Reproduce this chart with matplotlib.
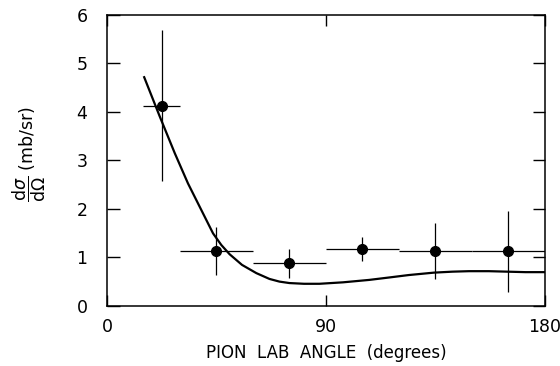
import matplotlib
matplotlib.use("Agg")
import matplotlib.pyplot as plt

# data points
angle = [22.5, 45, 75, 105, 135, 165]
xs = [4.12, 1.13, 0.87, 1.17, 1.12, 1.12]
angle_err = [7.5, 15, 15, 15, 15, 15]
xs_err = [1.56, 0.5, 0.3, 0.25, 0.58, 0.83]

# theory curve
curve_angle = [15.3, 21.7, 27.9, 33.3, 38.8, 43.6, 47.0, 50.4, 55.5, 61.4, 66.8, 70.9,
               75, 81, 87.3, 97, 107.8, 116, 124, 134.4, 142, 148.8, 157, 164.5, 172, 180]
curve_xs = [4.71, 3.90, 3.14, 2.52, 1.97, 1.49, 1.25, 1.06, 0.84, 0.67, 0.55, 0.495,
            0.465, 0.45, 0.45, 0.48, 0.53, 0.58, 0.63, 0.68, 0.70, 0.71, 0.71, 0.70, 0.69, 0.69]

xticks = [0, 90, 180]
yticks = [0, 1, 2, 3, 4, 5, 6]

plt.rcParams['font.family'] = ['DejaVu Sans']
plt.rcParams['mathtext.fontset'] = 'dejavusans'

fig = plt.figure(figsize=(5.6, 3.66), dpi=100)
ax = fig.add_axes([0.191, 0.165, 0.782, 0.795])

ax.plot(curve_angle, curve_xs, color='black', lw=1.6, zorder=2)
ax.errorbar(angle, xs, xerr=angle_err, yerr=xs_err, fmt='o', color='black',
            ms=7, elinewidth=0.9, capsize=0, zorder=3)

ax.set_xlim(0, 180)
ax.set_ylim(0, 6)
ax.set_xticks(xticks)
ax.set_yticks(yticks)
ax.tick_params(axis='both', direction='in', labelsize=12.5, width=1.0)
ax.tick_params(axis='y', length=9, right=True, pad=14)
ax.tick_params(axis='x', length=8, top=True, pad=9)
for s in ax.spines.values():
    s.set_linewidth(1.1)

ax.set_xlabel('PION  LAB  ANGLE  (degrees)', fontsize=12, labelpad=6)
fig.text(0.052, 0.58, r'$\dfrac{\mathrm{d}\sigma}{\mathrm{d}\Omega}$ (mb/sr)', fontsize=12.5,
         rotation=90, ha='center', va='center')

fig.savefig('out.png', dpi=100)
